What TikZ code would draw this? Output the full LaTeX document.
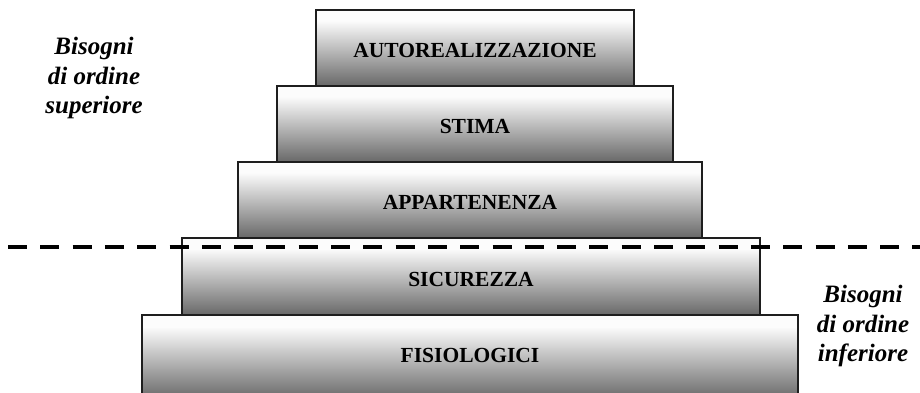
\documentclass[tikz,border=0pt]{standalone}
\usepackage{fontspec}
\setmainfont{Liberation Serif}
\definecolor{shadetop}{RGB}{252,252,252}
\definecolor{shadebot}{RGB}{104,104,104}
\definecolor{edgecol}{RGB}{30,30,30}
\pgfdeclareverticalshading{boxshade}{100bp}{color(0bp)=(shadebot); color(25bp)=(shadebot); color(68bp)=(shadetop); color(100bp)=(shadetop)}
\begin{document}
\begin{tikzpicture}[x=1pt,y=-1pt,
  lvl/.style={rectangle, draw=edgecol, line width=1.3pt, shading=boxshade,
    inner sep=0pt, text height=19pt, text depth=0pt,
    font=\fontsize{21.5}{24}\selectfont\bfseries},
  side/.style={align=center, inner sep=0pt,
    font=\fontsize{25}{29.5}\selectfont\bfseries\itshape},
  dashline/.style={line width=4pt, dash pattern=on 19pt off 13.3pt}]
\useasboundingbox (0,0) rectangle (920,393);
\clip (0,0) rectangle (920,393);
\node[lvl, minimum width=318pt, minimum height=76pt] (l1) at (475,48) {AUTOREALIZZAZIONE};
\node[lvl, minimum width=396pt, minimum height=76pt] (l2) at (475,124) {STIMA};
\node[lvl, minimum width=464pt, minimum height=76pt] (l3) at (470,200) {APPARTENENZA};
\node[lvl, minimum width=578pt, minimum height=77pt] (l4) at (471,276.5) {SICUREZZA};
\node[lvl, minimum width=656pt, minimum height=84pt, text height=11pt] (l5) at (470,357) {FISIOLOGICI};
\coordinate (dl) at (8,247);
\coordinate (dr) at (920,247);
\draw[dashline] (dl) -- (dr);
\node[side] (sup) at (94,78) {Bisogni\\di ordine\\superiore};
\node[side] (inf) at (863,326) {Bisogni\\di ordine\\inferiore};
\end{tikzpicture}
\end{document}
